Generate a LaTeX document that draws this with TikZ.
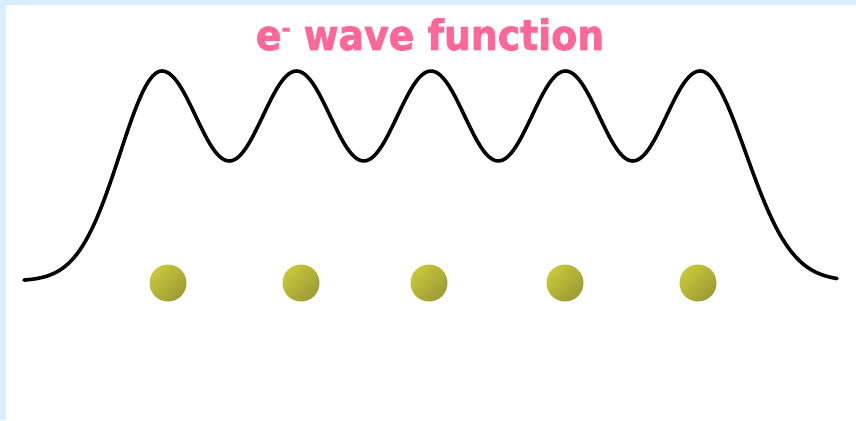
\documentclass[tikz,border=0pt]{standalone}
\usepackage{fontspec}
\newfontfamily\titlefont[FakeStretch=0.9,FakeBold=1.5]{DejaVu Sans Bold}
\definecolor{bandblue}{HTML}{D8EEFC}
\definecolor{titlepink}{HTML}{FF6699}
\definecolor{balllight}{HTML}{C8C73A}
\definecolor{balldark}{HTML}{9C9A34}
\tikzset{
  ion/.style={circle, minimum size=37pt, inner sep=0pt, shading=axis,
    top color=balllight, bottom color=balldark, shading angle=45},
  wave/.style={line width=3.6pt, line join=round, line cap=round, black},
  titletext/.style={text=titlepink, font=\titlefont\fontsize{42}{48}\selectfont, inner sep=0pt}
}
\begin{document}
\begin{tikzpicture}[x=1pt,y=-1pt]
\useasboundingbox (0,0) rectangle (856,420);
\fill[white] (0,0) rectangle (856,420);
\fill[bandblue] (0,0) rectangle (856,5);
\fill[bandblue] (0,0) rectangle (6,420);
\node[titletext, anchor=base] (title) at (430,50) {e\raisebox{0.32em}{\fontsize{24}{24}\selectfont -} wave function};
\draw[wave]
  plot[domain=24:162, samples=60, smooth] (\x, {281-210*exp(-0.5*((\x-162)/42)^2)})
  -- plot[domain=162:700, samples=200, smooth] (\x, {116-45*cos(2.6766*(\x-162))})
  -- plot[domain=700:837, samples=60, smooth] (\x, {281-210*exp(-0.5*((\x-700)/46)^2)});
\node[ion] (i1) at (168,283) {};
\node[ion] (i2) at (301,283) {};
\node[ion] (i3) at (429,283) {};
\node[ion] (i4) at (565,283) {};
\node[ion] (i5) at (698,283) {};
\end{tikzpicture}
\end{document}
